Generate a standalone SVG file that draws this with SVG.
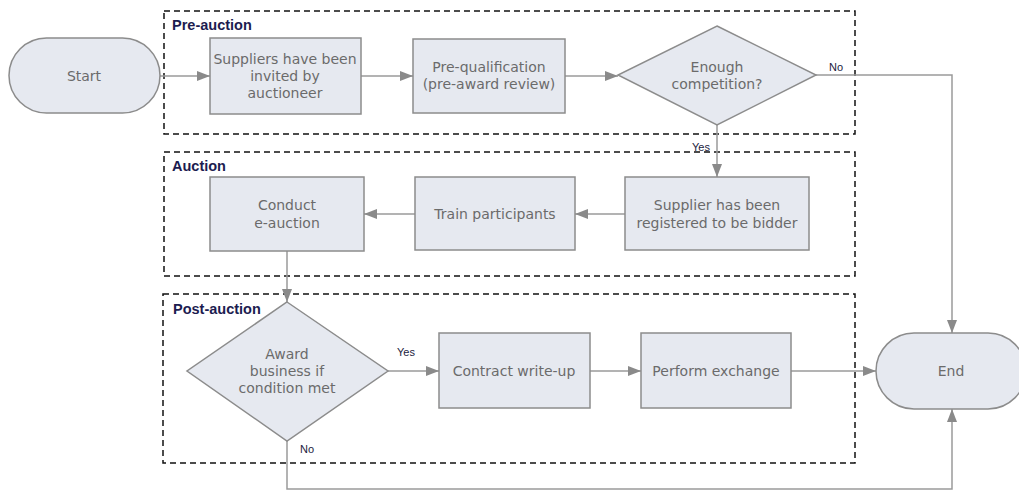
<svg xmlns="http://www.w3.org/2000/svg" width="1019" height="491" viewBox="0 0 1019 491">
<style>
.shape{fill:#e6e9f0;stroke:#8c8c8c;stroke-width:1.5}
.txt{font-family:"DejaVu Sans",Verdana,sans-serif;font-size:14px;fill:#6b6b6b;text-anchor:middle}
.grp{fill:none;stroke:#111;stroke-width:1.5;stroke-dasharray:6 4}
.glabel{font-family:"Liberation Sans",Arial,sans-serif;font-size:14.5px;font-weight:bold;fill:#1c1c50}
.elabel{font-family:"Liberation Sans",Arial,sans-serif;font-size:11px;fill:#1c1c40}
.conn{fill:none;stroke:#9a9a9a;stroke-width:1.5;marker-end:url(#arr)}
</style>
<defs>
<marker id="arr" markerUnits="userSpaceOnUse" markerWidth="14" markerHeight="12" refX="13" refY="5" orient="auto">
<path d="M0,0 L13,5 L0,10 Z" fill="#8a8a8a"/>
</marker>
</defs>
<rect width="1019" height="491" fill="#ffffff"/>
<g id="groups">
<rect class="grp" x="164" y="11" width="691" height="123"/>
<text class="glabel" x="172" y="30">Pre-auction</text>
<rect class="grp" x="164" y="152" width="691" height="124"/>
<text class="glabel" x="172" y="171">Auction</text>
<rect class="grp" x="163" y="294" width="692" height="169"/>
<text class="glabel" x="173" y="314">Post-auction</text>
</g>
<g id="connectors">
<path class="conn" d="M160,76 L210,76"/>
<path class="conn" d="M361,76 L413,76"/>
<path class="conn" d="M565,76 L618,76"/>
<path class="conn" d="M816,75 L952,75 L952,333"/>
<path class="conn" d="M717,125 L717,177"/>
<path class="conn" d="M625,214 L575,214"/>
<path class="conn" d="M415,214 L364,214"/>
<path class="conn" d="M287,251 L287,302"/>
<path class="conn" d="M388,371 L439,371"/>
<path class="conn" d="M590,371 L641,371"/>
<path class="conn" d="M791,371 L876,371"/>
<path class="conn" d="M287,441 L287,489 L952,489 L952,409"/>
<text class="elabel" x="829" y="71">No</text>
<text class="elabel" x="710" y="151" text-anchor="end">Yes</text>
<text class="elabel" x="397" y="356">Yes</text>
<text class="elabel" x="300" y="453">No</text>
</g>
<g id="start">
<rect class="shape" x="9" y="38" width="151" height="75" rx="37.5" ry="37.5"/>
<text class="txt" x="84" y="81">Start</text>
</g>
<g id="invited">
<rect class="shape" x="210" y="38" width="151" height="76"/>
<text class="txt" x="285" y="64">Suppliers have been</text>
<text class="txt" x="285" y="81">invited by</text>
<text class="txt" x="285" y="98">auctioneer</text>
</g>
<g id="prequal">
<rect class="shape" x="413" y="39" width="152" height="74"/>
<text class="txt" x="489" y="72">Pre-qualification</text>
<text class="txt" x="489" y="89">(pre-award review)</text>
</g>
<g id="enough">
<polygon class="shape" points="717,26 816,75 717,125 618,75"/>
<text class="txt" x="717" y="72">Enough</text>
<text class="txt" x="717" y="89">competition?</text>
</g>
<g id="registered">
<rect class="shape" x="625" y="177" width="184" height="73"/>
<text class="txt" x="717" y="210">Supplier has been</text>
<text class="txt" x="717" y="228">registered to be bidder</text>
</g>
<g id="train">
<rect class="shape" x="415" y="177" width="160" height="73"/>
<text class="txt" x="495" y="219">Train participants</text>
</g>
<g id="conduct">
<rect class="shape" x="210" y="177" width="154" height="74"/>
<text class="txt" x="287" y="210">Conduct</text>
<text class="txt" x="287" y="228">e-auction</text>
</g>
<g id="award">
<polygon class="shape" points="287,302 388,371 287,441 187,371"/>
<text class="txt" x="287" y="359">Award</text>
<text class="txt" x="287" y="376">business if</text>
<text class="txt" x="287" y="393">condition met</text>
</g>
<g id="contract">
<rect class="shape" x="439" y="333" width="151" height="75"/>
<text class="txt" x="514" y="376">Contract write-up</text>
</g>
<g id="perform">
<rect class="shape" x="641" y="333" width="150" height="75"/>
<text class="txt" x="716" y="376">Perform exchange</text>
</g>
<g id="end">
<rect class="shape" x="876" y="333" width="150" height="76" rx="38" ry="38"/>
<text class="txt" x="951" y="376">End</text>
</g>
</svg>
